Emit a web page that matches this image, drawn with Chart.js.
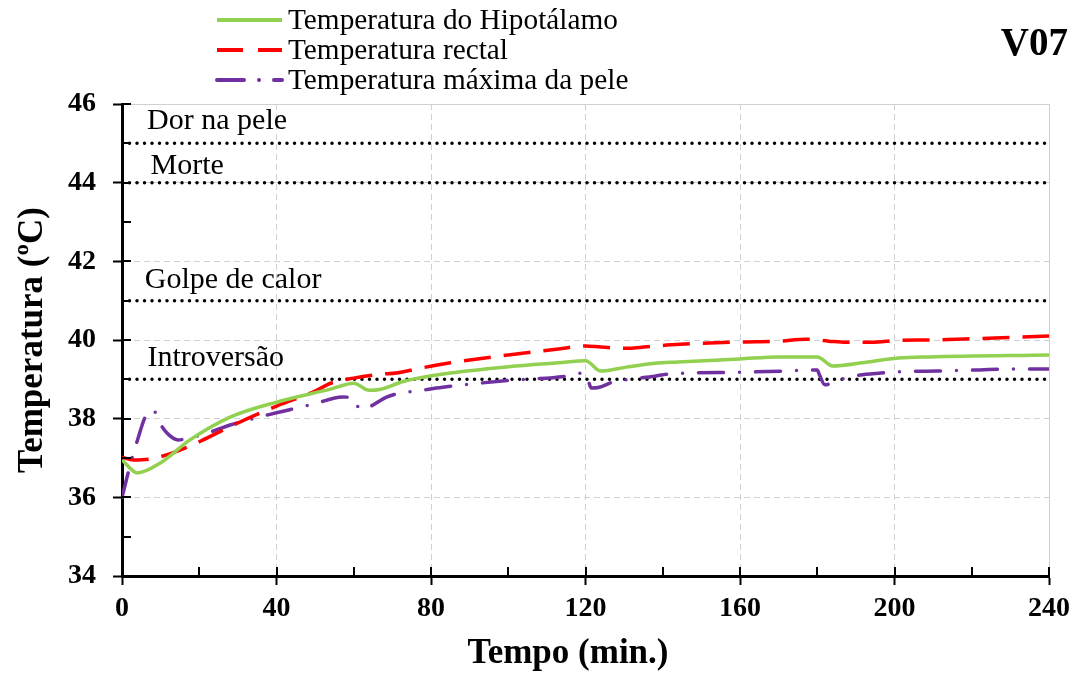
<!DOCTYPE html>
<html>
<head>
<meta charset="utf-8">
<script src="https://cdn.jsdelivr.net/npm/chart.js@4"></script>
<style>
  html, body { margin: 0; padding: 0; background: #fff; }
  #wrap { width: 1077px; height: 675px; position: relative; }
</style>
</head>
<body>
<div id="wrap"><canvas id="tempChart"></canvas></div>
<script>
// Temperatura do Hipotálamo
const hipoX = [0, 4, 10, 17.6, 28, 40, 54, 60, 64, 67, 73, 85, 100, 113, 120, 124, 130.5, 138, 144, 160, 170, 180, 184, 191.6, 201, 209, 240];
const hipoY = [36.95, 36.62, 36.88, 37.46, 38.04, 38.42, 38.75, 38.9, 38.72, 38.75, 38.95, 39.16, 39.32, 39.42, 39.47, 39.21, 39.31, 39.41, 39.44, 39.52, 39.57, 39.57, 39.34, 39.42, 39.54, 39.57, 39.62];

// Temperatura rectal
const rectX = [0, 3, 7, 10.6, 17, 21, 28, 40, 50, 54, 60, 67, 71, 77, 85, 100, 113, 120, 124, 131, 134, 141, 160, 170, 177, 183, 187.5, 194, 201, 209, 216, 226, 240];
const rectY = [37.02, 36.95, 36.97, 37.05, 37.28, 37.46, 37.8, 38.32, 38.7, 38.9, 39.03, 39.13, 39.16, 39.28, 39.42, 39.62, 39.77, 39.85, 39.82, 39.79, 39.81, 39.87, 39.95, 39.97, 40.02, 39.97, 39.94, 39.94, 39.99, 40.0, 40.02, 40.05, 40.1];

// Temperatura máxima da pele
const peleX = [0, 2.6, 4, 6, 8, 10, 12, 14.5, 18, 22, 28, 40, 50, 57, 60, 61.5, 64, 68.5, 72, 76, 83, 100, 115, 119, 120.3, 121.5, 123.6, 127, 131, 138, 141, 160, 171, 180, 180.5, 182, 186, 192.6, 196.5, 200, 211, 222, 229, 240];
const peleY = [36.0, 37.0, 37.45, 38.04, 38.22, 37.85, 37.6, 37.46, 37.52, 37.63, 37.84, 38.15, 38.38, 38.55, 38.52, 38.25, 38.3, 38.55, 38.65, 38.7, 38.8, 38.97, 39.08, 39.16, 39.1, 38.78, 38.8, 38.93, 39.0, 39.08, 39.13, 39.18, 39.21, 39.24, 39.13, 38.86, 39.0, 39.13, 39.16, 39.19, 39.21, 39.24, 39.26, 39.26];

// reference limits
const refValues = [45, 44, 41, 39];
const refLabels = ['Dor na pele', 'Morte', 'Golpe de calor', 'Introversão'];
const refLabelX = [6.5, 7.4, 5.9, 6.6];
const refLabelY = [45.37, 44.22, 41.32, 39.34];

const seriesNames = ['Temperatura do Hipotálamo', 'Temperatura rectal', 'Temperatura máxima da pele'];
const panelTitle = 'V07';

const xMin = 0, xMax = 240, xStep = 20, xLabelStep = 40;
const yMin = 34, yMax = 46, yStep = 1, yLabelStep = 2;

const serif = "'Liberation Serif', 'Times New Roman', serif";
const pts = (xs, ys) => xs.map((x, i) => ({ x: x, y: ys[i] }));

const extras = {
  id: 'extras',
  afterDraw(chart) {
    const { ctx, chartArea, scales: { x, y } } = chart;
    ctx.save();

    // inner tick marks
    ctx.strokeStyle = '#000';
    ctx.lineWidth = 2;
    y.ticks.forEach(t => {
      const py = Math.round(y.getPixelForValue(t.value));
      ctx.beginPath();
      ctx.moveTo(chartArea.left, py);
      ctx.lineTo(chartArea.left + 9, py);
      ctx.stroke();
    });
    x.ticks.forEach(t => {
      const px = Math.round(x.getPixelForValue(t.value));
      ctx.beginPath();
      ctx.moveTo(px, chartArea.bottom);
      ctx.lineTo(px, chartArea.bottom - 9);
      ctx.stroke();
    });

    // labels of the limit lines
    ctx.fillStyle = '#000';
    ctx.font = '30px ' + serif;
    ctx.textAlign = 'left';
    ctx.textBaseline = 'alphabetic';
    refLabels.forEach((txt, i) => {
      ctx.fillText(txt, x.getPixelForValue(refLabelX[i]), y.getPixelForValue(refLabelY[i]));
    });

    // legend
    const rows = [20, 50, 80];
    chart.data.datasets.slice(0, 3).forEach((ds, i) => {
      ctx.save();
      ctx.strokeStyle = ds.borderColor;
      ctx.lineWidth = 4;
      ctx.lineCap = ds.borderCapStyle || 'butt';
      ctx.setLineDash(ds.legendDash || []);
      ctx.beginPath();
      ctx.moveTo(217, rows[i]);
      ctx.lineTo(282, rows[i]);
      ctx.stroke();
      ctx.restore();
      ctx.font = '29.3px ' + serif;
      ctx.textBaseline = 'middle';
      ctx.fillText(ds.label, 288, rows[i] + 1);
    });

    // panel title
    ctx.font = 'bold 39px ' + serif;
    ctx.textAlign = 'right';
    ctx.textBaseline = 'middle';
    ctx.fillText(panelTitle, 1068, 45);
    ctx.restore();
  }
};

const refSets = refValues.map(v => ({
  label: 'ref' + v,
  data: [{ x: xMin, y: v }, { x: xMax, y: v }],
  borderColor: '#000',
  borderWidth: 3.5,
  borderDash: [0, 7.5],
  borderCapStyle: 'round',
  pointRadius: 0
}));

new Chart(document.getElementById('tempChart'), {
  type: 'line',
  data: {
    datasets: [
      {
        label: seriesNames[0],
        data: pts(hipoX, hipoY),
        borderColor: '#92d050',
        borderWidth: 3.5,
        pointRadius: 0,
        cubicInterpolationMode: 'monotone'
      },
      {
        label: seriesNames[1],
        data: pts(rectX, rectY),
        borderColor: '#ff0000',
        borderWidth: 3.5,
        borderDash: [27, 13],
        legendDash: [26, 15],
        pointRadius: 0,
        cubicInterpolationMode: 'monotone'
      },
      {
        label: seriesNames[2],
        data: pts(peleX, peleY),
        borderColor: '#7030a0',
        borderWidth: 3.5,
        borderDash: [25, 16, 0, 16],
        legendDash: [27, 15, 0, 15],
        borderCapStyle: 'round',
        pointRadius: 0,
        cubicInterpolationMode: 'monotone'
      },
      ...refSets
    ]
  },
  options: {
    responsive: true,
    maintainAspectRatio: false,
    animation: false,
    devicePixelRatio: 1,
    layout: { padding: { top: 104, right: 27, left: 0, bottom: 0 } },
    plugins: {
      legend: { display: false },
      tooltip: { enabled: false }
    },
    scales: {
      x: {
        type: 'linear',
        min: xMin,
        max: xMax,
        afterFit: s => { s.height = 99; },
        ticks: {
          stepSize: xStep,
          autoSkip: false,
          maxRotation: 0,
          padding: 7,
          color: '#000',
          font: { family: serif, size: 28, weight: 'bold' },
          callback: v => (v % xLabelStep === 0 ? v : '')
        },
        grid: {
          color: c => (c.tick && c.tick.value % xLabelStep === 0 && c.tick.value > xMin ? '#d0d0d0' : 'rgba(0,0,0,0)'),
          lineWidth: 1,
          tickLength: 9,
          tickWidth: 2,
          tickColor: c => (c.tick && c.tick.value % xLabelStep === 0 ? '#000' : 'rgba(0,0,0,0)')
        },
        border: {
          color: '#000',
          width: 3,
          dash: c => (c.tick && c.tick.value === xMax ? [] : [6, 4])
        },
        title: {
          display: true,
          text: 'Tempo (min.)\u2003',
          color: '#000',
          font: { family: serif, size: 35, weight: 'bold' },
          padding: { top: 0, bottom: 0 }
        }
      },
      y: {
        min: yMin,
        max: yMax,
        afterFit: s => { s.width = 122; },
        ticks: {
          stepSize: yStep,
          autoSkip: false,
          padding: 17,
          color: '#000',
          font: { family: serif, size: 28, weight: 'bold' },
          callback: v => (v % yLabelStep === 0 ? v : '')
        },
        grid: {
          color: c => (c.tick && c.tick.value % yLabelStep === 0 && c.tick.value > yMin ? '#d0d0d0' : 'rgba(0,0,0,0)'),
          lineWidth: 1,
          tickLength: 9,
          tickWidth: 2,
          tickColor: c => (c.tick && c.tick.value % yLabelStep === 0 ? '#000' : 'rgba(0,0,0,0)')
        },
        border: {
          color: '#000',
          width: 3,
          dash: c => (c.tick && c.tick.value === yMax ? [] : [6, 4])
        },
        title: {
          display: true,
          text: 'Temperatura (ºC)',
          color: '#000',
          font: { family: serif, size: 35, weight: 'bold' },
          padding: { top: 12, bottom: 0 }
        }
      }
    }
  },
  plugins: [extras]
});
</script>
</body>
</html>
